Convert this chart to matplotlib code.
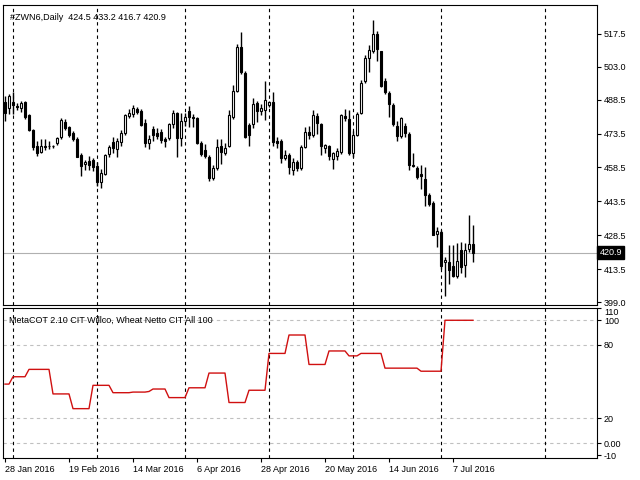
import matplotlib
matplotlib.use("Agg")
import matplotlib.pyplot as plt
import numpy as np

opens = [487.6,484.6,487.6,485.7,484.6,487.3,481.7,475.1,468.0,465.5,468.0,467.8,467.9,469.2,472.1,478.7,476.5,473.6,471.0,464.0,
 459.9,461.5,461.8,459.3,452.2,455.5,464.4,469.9,466.7,469.9,473.6,481.2,482.0,484.2,483.6,478.3,469.5,475.4,473.9,474.3,
 470.9,471.4,477.7,482.7,471.4,479.2,483.5,481.0,480.2,469.5,466.2,463.3,453.7,458.1,468.1,465.0,468.1,480.7,492.4,511.9,
 500.4,477.3,477.7,486.8,483.5,483.9,486.1,487.6,470.2,470.2,462.5,464.0,457.4,461.1,458.1,467.7,474.0,472.8,481.3,477.5,
 467.1,467.9,462.3,463.5,465.2,481.4,480.0,465.0,473.0,482.6,496.6,506.9,509.8,517.5,509.8,496.6,491.4,485.9,477.0,472.3,
 477.0,473.5,459.5,458.3,455.4,453.2,446.1,442.9,429.2,430.1,416.7,416.7,414.9,410.5,421.8,415.3,422.6,424.5]
closes = [482.4,490.1,486.1,485.4,487.1,481.0,475.1,467.7,464.7,468.0,467.7,467.9,467.8,471.4,479.5,475.8,472.8,471.0,463.3,459.3,
 460.8,459.6,458.9,452.2,455.9,464.0,467.7,467.0,470.2,473.6,481.7,482.7,484.6,483.2,477.3,469.2,470.9,472.8,472.4,470.6,
 470.3,477.7,482.7,471.4,479.0,481.0,481.0,480.2,469.5,464.4,463.6,453.7,458.1,467.7,465.5,467.2,481.7,492.3,511.9,500.8,
 472.1,472.8,486.5,483.6,484.6,488.3,487.6,469.9,469.2,462.5,464.0,458.9,461.1,458.1,467.7,474.0,472.8,481.7,478.0,467.9,
 468.3,463.5,464.7,465.7,481.6,480.2,465.0,473.0,482.3,495.9,506.9,510.6,517.5,510.9,494.7,491.7,486.6,477.9,472.6,480.3,
 473.8,459.5,459.3,454.2,454.6,446.1,442.4,428.7,430.6,414.9,417.8,413.1,410.5,417.1,414.5,421.8,424.7,420.9]
highs = [490,491,492,487,488,488,482,475.5,470,471,471,470,468.5,472,480.5,480,477,474.5,472,465,
 462,463.5,462.5,461,458,464.5,468.5,472,471.5,475,482,484.5,486,485,484.5,480,473,477,476,475.5,
 472,478,484,483,482.7,482.7,485.5,482,481,470,469,464,459.5,471,471,469.5,484,495,513,518.2,
 501,478,489,488,486.5,496.5,488,492,472,471,466,465,462.5,462,468.5,476.5,477,484,482.7,478,
 469,468.5,465.5,467,482,484.5,484,474.5,483,497,508,512.5,523.8,519,510,498,492.5,487,479,481,
 478,474,465,459,459.5,458.5,447,443.5,432,431,419,424,424,425,425.5,425,437.7,433.2]
lows = [479,482,482,484,483,480,474.5,466,463.5,465,466,466.5,467,468.5,471,475,472,470,463,454.5,
 457.5,457.5,457,450.5,449.5,455,463,465,463,468,473,480.5,481,482,477,467.5,466.5,470,471,469.5,
 467.5,470.5,476,463,468,477,476.5,476.5,469,463.5,462.5,452.5,453,457.5,460,464,467.5,480,492,500,
 471.5,468,476,478.5,481.5,479.5,485,468,467,460.5,462,455.5,455,457,457.5,467,471,472,473.5,464,
 465,462,458,462,464.5,479,464,463,472.5,482,496,500.5,509,505.5,494,491,481,477,470,471.5,
 472,457.5,458.5,453.5,449,441.4,441.5,428.5,423.5,413.5,401.6,406.8,410,409.5,412,410,421,416.7]

cot = [48,48,54,54,54,54,60,60,60,60,60,60,40,40,40,40,40,28,28,28,28,28,47,47,47,47,47,41,41,41,
 41,41,41.5,41.5,41.5,41.5,42,44,44,44,44,37,37,37,37,37,45,45,45,45,45,57,57,57,57,57,33,33,33,33,
 33,43,43,43,43,43,73,73,73,73,73,88,88,88,88,88,64,64,64,64,64,75,75,75,75,75,71,71,71,73,
 73,73,73,73,73,61,61,61,61,61,61,61,61,61,58.5,58.5,58.5,58.5,58.5,58.5,100,100,100,100,100,100,100,100]

month_sep = [2, 23, 45, 66, 87, 109, 135]
date_idx = [0, 16, 32, 48, 64, 80, 96, 112]
date_labels = ["28 Jan 2016", "19 Feb 2016", "14 Mar 2016", "6 Apr 2016", "28 Apr 2016",
               "20 May 2016", "14 Jun 2016", "7 Jul 2016"]
price_ticks = [517.5, 503.0, 488.5, 473.5, 458.5, 443.5, 428.5, 413.5, 399.0]
cot_ticks = [110, 100, 80, 20, 0, -10]
cot_tick_labels = ["110", "100", "80", "20", "0.00", "-10"]
cot_grid = [100, 80, 20, 0]
last_price = 420.9

plt.rcParams["font.family"] = ["Liberation Sans", "DejaVu Sans"]
fig = plt.figure(figsize=(6.4, 4.8), dpi=100)
fs = 6.5
ax1 = fig.add_axes([3/640, 175/480, 594/640, 300/480])
ax2 = fig.add_axes([3/640, 22/480, 594/640, 150/480])

x = np.arange(len(opens))
o = np.array(opens); c = np.array(closes)
ax1.vlines(x, lows, highs, color="black", lw=1)
bottom = np.minimum(o, c); height = np.maximum(np.abs(c - o), 0.25)
colors = ["white" if cc >= oo else "black" for oo, cc in zip(o, c)]
ax1.bar(x, height, bottom=bottom, width=0.7, color=colors, edgecolor="black", lw=0.8, zorder=3)
ax1.axhline(last_price, color="#b0b0b0", lw=0.8, zorder=1)
ax1.set_xlim(-0.5, 148)
ax1.set_ylim(397.7, 530.3)
ax1.yaxis.tick_right()
ax1.set_yticks(price_ticks)
ax1.set_yticklabels([f"{t:.1f}" for t in price_ticks], fontsize=fs)
ax1.set_xticks([])
ax1.text(148.6, last_price, f"{last_price:.1f}", fontsize=fs, color="white",
         va="center", ha="left", clip_on=False,
         bbox=dict(facecolor="black", edgecolor="black", pad=1.5))
ax1.text(0.012, 0.975, "#ZWN6,Daily  424.5 433.2 416.7 420.9", transform=ax1.transAxes,
         fontsize=fs, va="top", ha="left")

ax2.plot(x, cot, color="#d01010", lw=1)
for g in cot_grid:
    ax2.axhline(g, color="#c0c0c0", ls=(0, (3, 3)), lw=0.8, zorder=0)
ax2.set_xlim(-0.5, 148)
ax2.set_ylim(-12.2, 109.8)
ax2.yaxis.tick_right()
ax2.set_yticks(cot_ticks)
ax2.set_yticklabels(cot_tick_labels, fontsize=fs)
ax2.get_yticklabels()[0].set_va("top")
ax2.set_xticks(date_idx)
ax2.set_xticklabels(date_labels, fontsize=fs, ha="left")
ax2.tick_params(axis="x", length=3, pad=2)
ax2.text(0.01, 0.95, "MetaCOT 2.10 CIT Willco, Wheat Netto CIT All 100", transform=ax2.transAxes,
         fontsize=fs, va="top", ha="left")

for ax in (ax1, ax2):
    for m in month_sep:
        ax.axvline(m, color="black", ls=(0, (3, 3)), lw=0.8, zorder=0)
    ax.tick_params(axis="y", length=3, pad=2)
    for s in ax.spines.values():
        s.set_linewidth(0.8)

fig.savefig("out.png", dpi=100)
